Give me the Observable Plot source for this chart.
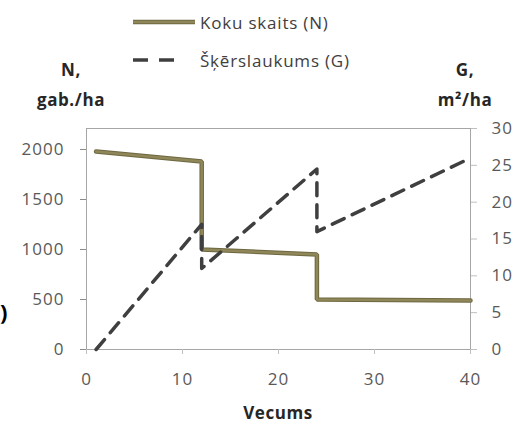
<!DOCTYPE html>
<html>
<head>
<meta charset="utf-8">
<script src="https://cdn.jsdelivr.net/npm/d3@7"></script>
<script src="https://cdn.jsdelivr.net/npm/@observablehq/plot@0.6"></script>
<style>
  html, body { margin: 0; padding: 0; background: #fff; }
  #wrap { position: relative; width: 517px; height: 424px; overflow: hidden; font-family: "Open Sans", sans-serif; }
  .lab { position: absolute; font-weight: bold; font-size: 17px; color: #262626; text-align: center; line-height: 30px; letter-spacing: 0.6px; }
  .leg { position: absolute; font-size: 17px; color: #404040; display: flex; align-items: center; letter-spacing: 0.8px; height: 24px; }
  .leg svg { margin-right: 5px; }
  svg text { letter-spacing: 1px; }
</style>
</head>
<body>
<div id="wrap"></div>
<script>
// Data
const ageN = [1, 12, 12, 24, 24, 40];
const valN = [1980, 1880, 1000, 950, 500, 490];
const ageG = [1, 12, 12, 24, 24, 40];
const valG = [0, 17, 11, 24.5, 16, 26];
const xTicks = [0, 10, 20, 30, 40];
const nTicks = [0, 500, 1000, 1500, 2000];
const gTicks = [0, 5, 10, 15, 20, 25, 30];
const nameN = "Koku skaits (N)";
const nameG = "Šķērslaukums (G)";

const yMax = 2210;
const gMax = 30;
const k = yMax / gMax;

const dataN = ageN.map((a, i) => ({age: a, v: valN[i]}));
const dataG = ageG.map((a, i) => ({age: a, v: valG[i] * k}));

const colN = "#8f875a";
const colG = "#3f3f3f";
const tickCol = "#595959";

const chart = Plot.plot({
  width: 517,
  height: 424,
  marginLeft: 86,
  marginRight: 47,
  marginTop: 128,
  marginBottom: 75,
  style: {fontFamily: "Open Sans, sans-serif", fontSize: "17px", color: tickCol, background: "transparent"},
  x: {domain: [0, 40]},
  y: {domain: [0, yMax]},
  marks: [
    Plot.frame({stroke: "#a6a6a6", strokeWidth: 1}),
    Plot.axisX({ticks: xTicks, tickSize: 5, tickPadding: 18, label: null, stroke: "#bfbfbf", fill: tickCol}),
    Plot.axisY({ticks: nTicks, tickFormat: d => String(d), tickSize: 6, tickPadding: 16, label: null, stroke: "#8c8c8c", fill: tickCol}),
    Plot.axisY({anchor: "right", ticks: gTicks.map(g => g * k), tickFormat: d => String(Math.round(d / k)), tickSize: 6, tickPadding: 15, label: null, stroke: "#bfbfbf", fill: tickCol}),
    Plot.line(dataN, {x: "age", y: "v", stroke: "#6e6840", strokeWidth: 4.5, strokeLinejoin: "miter", curve: "linear"}),
    Plot.line(dataN, {x: "age", y: "v", stroke: colN, strokeWidth: 2.5, strokeLinejoin: "miter", curve: "linear"}),
    Plot.line(dataG, {x: "age", y: "v", stroke: colG, strokeWidth: 3.5, strokeDasharray: "13,9", curve: "linear"})
  ]
});

const wrap = document.getElementById("wrap");
chart.style.position = "absolute";
chart.style.left = "0px";
chart.style.top = "0px";
wrap.appendChild(chart);

function addLabel(html, left, top, width) {
  const d = document.createElement("div");
  d.className = "lab";
  d.style.left = left + "px";
  d.style.top = top + "px";
  d.style.width = width + "px";
  d.innerHTML = html;
  wrap.appendChild(d);
  return d;
}
addLabel("N,<br>gab./ha", 21, 55, 100);
addLabel("G,<br>m²/ha", 415, 55, 100);
const xt = addLabel("Vecums", 228, 403, 100);
xt.style.lineHeight = "20px";
const frag = addLabel(")", 0, 296, 12);
frag.style.color = "#000";
frag.style.fontSize = "22px";
frag.style.textAlign = "left";

function addLegend(name, top, stroke, width, dash, border) {
  const d = document.createElement("div");
  d.className = "leg";
  d.style.left = "133px";
  d.style.top = top + "px";
  const s = d3.create("svg").attr("width", 62).attr("height", 10);
  if (border) s.append("line").attr("x1", 0).attr("x2", 62).attr("y1", 5).attr("y2", 5).attr("stroke", border).attr("stroke-width", width + 2);
  s.append("line").attr("x1", 0).attr("x2", 62).attr("y1", 5).attr("y2", 5).attr("stroke", stroke).attr("stroke-width", width).attr("stroke-dasharray", dash || null);
  d.appendChild(s.node());
  const t = document.createElement("span");
  t.textContent = name;
  d.appendChild(t);
  wrap.appendChild(d);
}
addLegend(nameN, 10, colN, 2.5, null, "#6e6840");
addLegend(nameG, 48, colG, 3.5, "15,11,15,30", null);
</script>
</body>
</html>
